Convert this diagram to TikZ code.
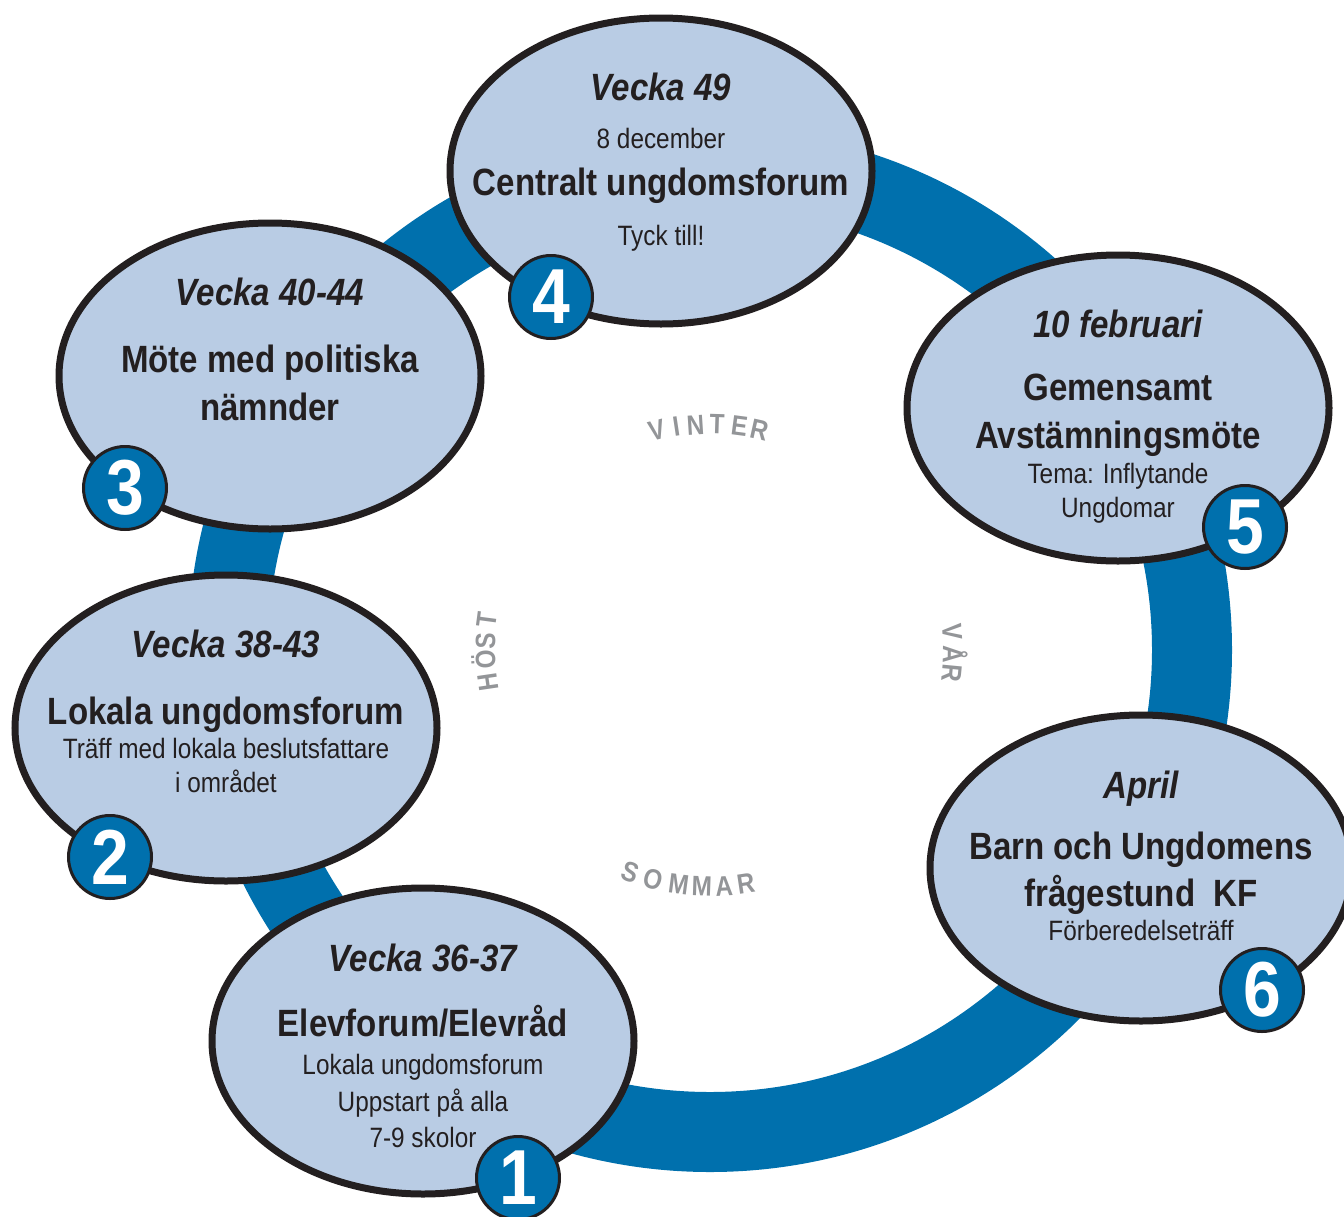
\documentclass[tikz,border=0pt]{standalone}
\usepackage{fontspec}
\setmainfont{Liberation Sans}[FakeStretch=0.87]
\usetikzlibrary{shapes.geometric}

\definecolor{ringblue}{HTML}{0070AD}
\definecolor{bubblefill}{HTML}{B9CCE4}
\definecolor{kant}{HTML}{231F20}
\definecolor{seasongray}{HTML}{939598}

\begin{document}
\begin{tikzpicture}[x=1pt, y=1pt]

    % stilar
    \tikzstyle{ring}=[draw=ringblue, line width=80pt]
    \tikzstyle{bubble}=[ellipse, draw=kant, line width=7pt, fill=bubblefill, minimum width=422pt, minimum height=306pt, inner sep=0pt]
    \tikzstyle{badge}=[circle, draw=kant, line width=3pt, fill=ringblue, text=white, minimum size=83pt, inner sep=0pt, font=\fontsize{78}{78}\selectfont\bfseries]
    \tikzstyle{week}=[anchor=base, inner sep=0pt, text=kant, font=\fontsize{38}{40}\selectfont\bfseries\itshape]
    \tikzstyle{rubrik}=[anchor=base, inner sep=0pt, text=kant, font=\fontsize{38}{40}\selectfont\bfseries]
    \tikzstyle{info}=[anchor=base, inner sep=0pt, text=kant, font=\fontsize{28}{30}\selectfont]
    \tikzstyle{season}=[inner sep=0pt, text=seasongray, text height=20pt, text depth=0pt, font=\fontsize{28}{28}\selectfont\bfseries]

    \useasboundingbox (0,-1216) rectangle (1344,0);

    % ringen
    \coordinate (hub) at (710,-650);
    \draw[ring] (hub) circle[radius=482pt];

    % ellipser
    \node[bubble] (e1) at (423,-1041) {};
    \node[bubble] (e2) at (226,-728) {};
    \node[bubble] (e3) at (270,-376) {};
    \node[bubble] (e4) at (661,-171) {};
    \node[bubble] (e5) at (1118,-408) {};
    \node[bubble] (e6) at (1141,-868) {};

    % 1
    \node[week] (e1a) at ([yshift=70pt]e1.center) {Vecka 36-37};
    \node[rubrik] (e1b) at ([yshift=5pt]e1.center) {Elevforum/Elevråd};
    \node[info] (e1c) at ([yshift=-33pt]e1.center) {Lokala ungdomsforum};
    \node[info] (e1d) at ([yshift=-70pt]e1.center) {Uppstart på alla};
    \node[info] (e1e) at ([yshift=-106pt]e1.center) {7-9 skolor};

    % 2
    \node[week] (e2a) at ([yshift=71pt]e2.center) {Vecka 38-43};
    \node[rubrik] (e2b) at ([yshift=4pt]e2.center) {Lokala ungdomsforum};
    \node[info] (e2c) at ([yshift=-30pt]e2.center) {Träff med lokala beslutsfattare};
    \node[info] (e2d) at ([yshift=-64pt]e2.center) {i området};

    % 3
    \node[week] (e3a) at ([yshift=71pt]e3.center) {Vecka 40-44};
    \node[rubrik] (e3b) at ([yshift=4pt]e3.center) {Möte med politiska};
    \node[rubrik] (e3c) at ([yshift=-44pt]e3.center) {nämnder};

    % 4
    \node[week] (e4a) at ([yshift=71pt]e4.center) {Vecka 49};
    \node[info] (e4b) at ([yshift=23pt]e4.center) {8 december};
    \node[rubrik] (e4c) at ([yshift=-24pt]e4.center) {Centralt ungdomsforum};
    \node[info] (e4d) at ([yshift=-74pt]e4.center) {Tyck till!};

    % 5
    \node[week] (e5a) at ([yshift=71pt]e5.center) {10 februari};
    \node[rubrik] (e5b) at ([yshift=8pt]e5.center) {Gemensamt};
    \node[rubrik] (e5c) at ([yshift=-40pt]e5.center) {Avstämningsmöte};
    \node[info] (e5d) at ([yshift=-75pt]e5.center) {Tema: Inflytande};
    \node[info] (e5e) at ([yshift=-109pt]e5.center) {Ungdomar};

    % 6
    \node[week] (e6a) at ([yshift=70pt]e6.center) {April};
    \node[rubrik] (e6b) at ([yshift=9pt]e6.center) {Barn och Ungdomens};
    \node[rubrik] (e6c) at ([yshift=-38pt]e6.center) {frågestund\ \ KF};
    \node[info] (e6d) at ([yshift=-72pt]e6.center) {Förberedelseträff};

    % nummer
    \node[badge] (n1) at (518,-1178) {1};
    \node[badge] (n2) at (110,-857) {2};
    \node[badge] (n3) at (125,-488) {3};
    \node[badge] (n4) at (551,-297) {4};
    \node[badge] (n5) at (1245,-527) {5};
    \node[badge] (n6) at (1262,-990) {6};

    % årstider
    \foreach \ch/\ang [count=\i] in {V/103.6, I/98.6, N/93.7, T/88.2, E/82.5, R/77.4}
        \node[season, rotate=\ang-90] (vinter\i) at ([shift={(\ang:226)}]hub) {\ch};
    \foreach \ch/\ang [count=\i] in {H/188.3, Ö/182.5, S/177.7, T/172.4}
        \node[season, rotate=\ang-90] (host\i) at ([shift={(\ang:225)}]hub) {\ch};
    \foreach \ch/\ang [count=\i] in {V/4.2, Å/-1.0, R/-5.4}
        \node[season, rotate=\ang-90] (var\i) at ([shift={(\ang:243)}]hub) {\ch};
    \foreach \ch/\ang [count=\i] in {S/-109.8, O/-104, M/-97.6, M/-92.0, A/-86.6, R/-81.3}
        \node[season, rotate=\ang+90] (sommar\i) at ([shift={(\ang:236)}]hub) {\ch};

\end{tikzpicture}
\end{document}
